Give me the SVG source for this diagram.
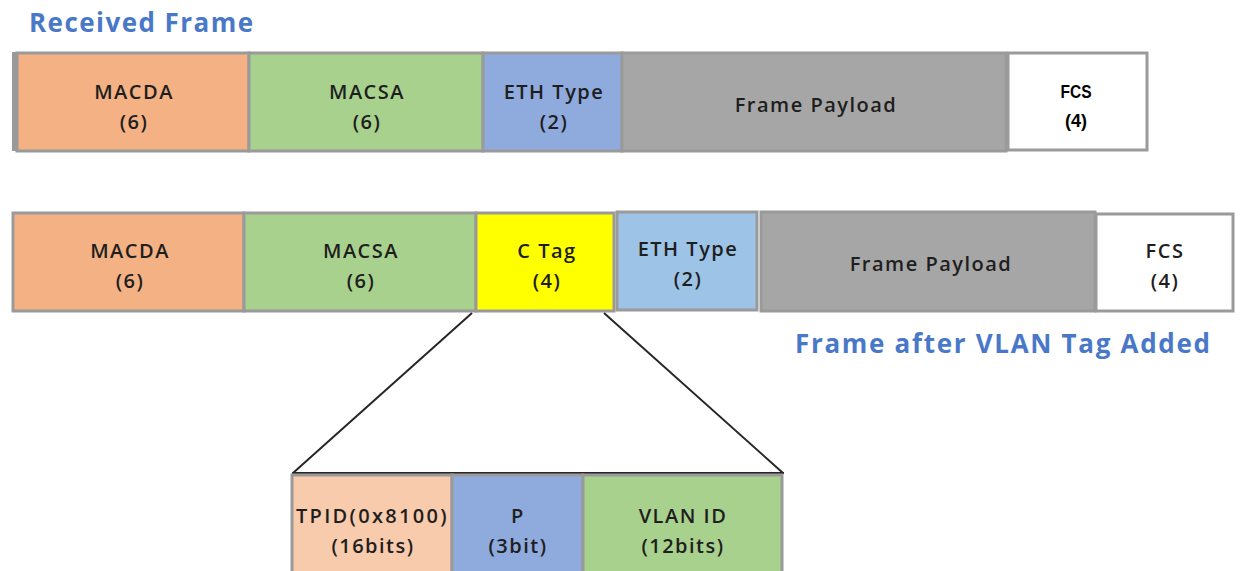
<svg xmlns="http://www.w3.org/2000/svg" width="1240" height="571" viewBox="0 0 1240 571">
<style>
.b{stroke:#9a9a9a;stroke-width:3}
.t{font-family:"Open Sans","Liberation Sans",sans-serif;font-weight:600;font-size:20px;letter-spacing:1.5px;fill:#1e1e1e;text-anchor:middle}
.h{font-family:"Open Sans","Liberation Sans",sans-serif;font-weight:700;font-size:26px;fill:#4a78c8}
.f{font-family:"Liberation Sans",sans-serif;font-weight:700;font-size:18px;fill:#000;text-anchor:middle}
.ln{stroke:#262626;stroke-width:2;fill:none}
</style>
<rect width="1240" height="571" fill="#fff"/>
<text class="h" x="29" y="32" textLength="224" lengthAdjust="spacing">Received Frame</text>
<text class="h" x="795" y="353" textLength="415" lengthAdjust="spacing">Frame after VLAN Tag Added</text>
<g id="received-frame">
<rect x="12" y="52" width="994" height="99" fill="#9a9a9a"/>
<g id="r-macda"><rect class="b" x="17" y="53" width="232" height="98" fill="#F4B183"/><text class="t" x="134" y="99">MACDA</text><text class="t" x="134" y="129">(6)</text></g>
<g id="r-macsa"><rect class="b" x="249" y="53" width="234" height="98" fill="#A9D18E"/><text class="t" x="367" y="99">MACSA</text><text class="t" x="367" y="129">(6)</text></g>
<g id="r-eth"><rect class="b" x="483" y="53" width="139" height="98" fill="#8FAADC"/><text class="t" x="554" y="99">ETH Type</text><text class="t" x="554" y="129">(2)</text></g>
<g id="r-payload"><rect class="b" x="622" y="53" width="384" height="98" fill="#A6A6A6"/><text class="t" x="816" y="112">Frame Payload</text></g>
<g id="r-fcs"><rect class="b" x="1008" y="53" width="139" height="97" fill="#fff"/><text class="f" x="1076" y="98" textLength="31" lengthAdjust="spacingAndGlyphs">FCS</text><text class="f" x="1076" y="127" textLength="22" lengthAdjust="spacingAndGlyphs">(4)</text></g>
</g>
<g id="tagged-frame">
<g id="t-macda"><rect class="b" x="13" y="213" width="231" height="98" fill="#F4B183"/><text class="t" x="130" y="258">MACDA</text><text class="t" x="130" y="288">(6)</text></g>
<g id="t-macsa"><rect class="b" x="244" y="213" width="232" height="98" fill="#A9D18E"/><text class="t" x="361" y="258">MACSA</text><text class="t" x="361" y="288">(6)</text></g>
<g id="t-ctag"><rect class="b" x="476" y="213" width="138" height="98" fill="#FFFF00"/><text class="t" x="547" y="258">C Tag</text><text class="t" x="547" y="288">(4)</text></g>
<g id="t-eth"><rect class="b" x="617" y="212" width="140" height="98" fill="#9DC3E6"/><text class="t" x="688" y="256">ETH Type</text><text class="t" x="688" y="286">(2)</text></g>
<g id="t-payload"><rect class="b" x="761" y="212" width="334" height="99" fill="#A6A6A6"/><text class="t" x="931" y="271">Frame Payload</text></g>
<g id="t-fcs"><rect class="b" x="1096" y="214" width="137" height="97" fill="#fff"/><text class="t" x="1165" y="258">FCS</text><text class="t" x="1165" y="288">(4)</text></g>
</g>
<g id="connectors">
<line class="ln" x1="472" y1="313" x2="293" y2="473"/>
<line class="ln" x1="604" y1="313" x2="783" y2="473"/>
<line class="ln" x1="292" y1="473" x2="784" y2="473"/>
</g>
<g id="ctag-detail">
<g id="d-tpid"><rect class="b" x="292" y="475" width="160" height="100" fill="#F8CBAD"/><text class="t" x="372" y="523" textLength="152" lengthAdjust="spacing">TPID(0x8100)</text><text class="t" x="373" y="553">(16bits)</text></g>
<g id="d-p"><rect class="b" x="452" y="475" width="131" height="100" fill="#8FAADC"/><text class="t" x="518" y="523">P</text><text class="t" x="518" y="553">(3bit)</text></g>
<g id="d-vlan"><rect class="b" x="583" y="475" width="199" height="100" fill="#A9D18E"/><text class="t" x="683" y="523">VLAN ID</text><text class="t" x="683" y="553">(12bits)</text></g>
</g>
</svg>
